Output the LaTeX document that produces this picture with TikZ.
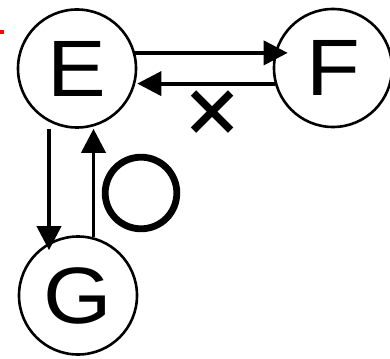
\documentclass[tikz,border=0pt]{standalone}
\usepackage{fontspec}
\setmainfont{Liberation Sans}
\newfontfamily\letterfont[FakeStretch=1.1]{Liberation Sans}
\newfontfamily\markfont{Noto Sans CJK JP}
\newfontfamily\ringfont[FakeBold=4.5]{Noto Sans CJK JP}
\usetikzlibrary{arrows.meta,calc}
\begin{document}
\begin{tikzpicture}[x=1pt,y=-1pt,
  state/.style={circle,draw,line width=2.6pt,minimum size=118pt,inner sep=0pt,
    font=\letterfont\fontsize{80}{80}\selectfont},
  arr/.style={line width=3.8pt,-{Triangle[length=24pt,width=24pt]}},
  marklabel/.style={inner sep=0pt}]
\useasboundingbox (0,0) rectangle (390,358);
% small red tick at the left edge
\fill[red] (0,30) rectangle (4,34);
% the three states
\node[state] (E) at (77,68.5) {E};
\node[state] (F) at (333,68) {F};
\node[state] (G) at (78,295.5) {G};
% horizontal pair E <-> F
\draw[arr] (E.15) -- ($(E.15 -| F.west)+(15,0)$);
\draw[arr] (F.195) -- (F.195 -| E.east);
% vertical pair E <-> G
\coordinate (a1) at ($(E.south)+(-28,0)$);
\coordinate (b1) at ($(E.south)+(16.5,0)$);
\draw[arr] (a1) -- ($(a1 |- G.north)+(0,15)$);
\draw[arr] ($(b1 |- G.north)+(0,2)$) -- (b1);
% labels on the connectors
\node[marklabel,font=\markfont\bfseries\fontsize{64}{64}\selectfont] (x) at (212,114) {×};
\node[marklabel,font=\ringfont\fontsize{83}{83}\selectfont] (o) at (141,193) {○};
\end{tikzpicture}
\end{document}
